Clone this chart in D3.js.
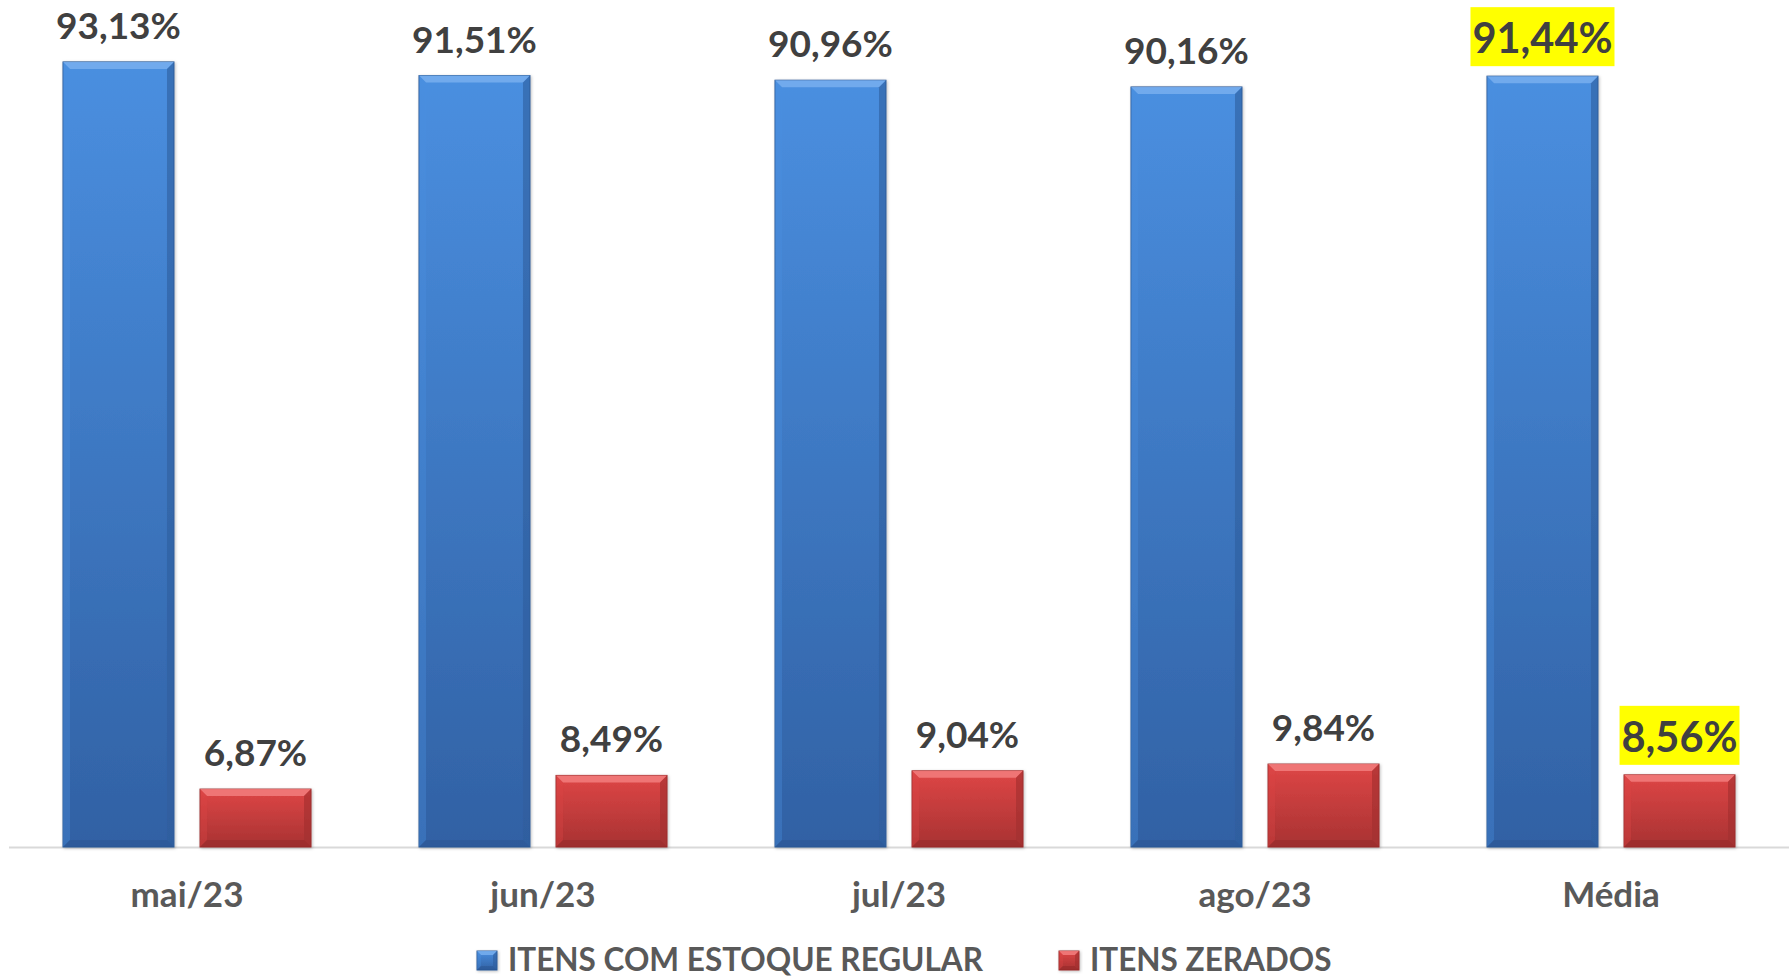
<!DOCTYPE html>
<html><head><meta charset="utf-8">
<script src="https://cdn.jsdelivr.net/npm/d3@7/dist/d3.min.js"></script>
<style>html,body{margin:0;padding:0;background:#fff;overflow:hidden}</style>
</head><body><svg id="chart" width="1789" height="980"></svg>
<script>
const categories = ["mai/23", "jun/23", "jul/23", "ago/23", "Média"];
const regularValues = [93.13, 91.51, 90.96, 90.16, 91.44];
const zeradosValues = [6.87, 8.49, 9.04, 9.84, 8.56];
const seriesNames = ["ITENS COM ESTOQUE REGULAR", "ITENS ZERADOS"];
const highlightedCategories = ["Média"];
const yDomain = [0, 100];

const W = 1789, H = 980;
const svg = d3.select("#chart");
const FONT = "Lato, 'Open Sans', sans-serif";
const locale = d3.formatLocale({decimal: ",", thousands: ".", grouping: [3], currency: ["", ""]});
const fmt = v => locale.format(".2f")(v) + "%";

const colors = [
  {top: "#4a8fe0", bottom: "#3161a4", bevelTop: "#78afee", bevelSide: "#2f5d9c", bevelBottom: "#2a5490", stroke: "#2d5a96"},
  {top: "#de4646", bottom: "#a83232", bevelTop: "#f27c7c", bevelSide: "#a02e2e", bevelBottom: "#922828", stroke: "#9a2e2e"}
];

const defs = svg.append("defs");
colors.forEach((c, i) => {
  const g = defs.append("linearGradient").attr("id", "grad" + i).attr("x1", 0).attr("y1", 0).attr("x2", 0).attr("y2", 1);
  g.append("stop").attr("offset", "0%").attr("stop-color", c.top);
  g.append("stop").attr("offset", "100%").attr("stop-color", c.bottom);
});
const f = defs.append("filter").attr("id", "shadow").attr("x", "-10%").attr("y", "-10%").attr("width", "130%").attr("height", "130%");
f.append("feDropShadow").attr("dx", 1).attr("dy", 1).attr("stdDeviation", 1.5).attr("flood-color", "#000").attr("flood-opacity", 0.25);

const baseY = 847, topY = 4;
const x0 = d3.scaleBand().domain(categories).range([9, W]).padding(0);
const x1 = d3.scaleBand().domain(seriesNames).range([0, x0.bandwidth()]).paddingInner(0.19).paddingOuter(0.394);
const y = d3.scaleLinear().domain(yDomain).range([baseY, topY]);

const data = categories.map((c, i) => ({cat: c, vals: [regularValues[i], zeradosValues[i]]}));

function bevelBar(g, x, yTop, w, h, ci, b) {
  const c = colors[ci];
  const grp = g.append("g").attr("filter", "url(#shadow)");
  grp.append("rect").attr("x", x).attr("y", yTop).attr("width", w).attr("height", h)
    .attr("fill", `url(#grad${ci})`).attr("stroke", c.stroke).attr("stroke-width", 1);
  b = Math.min(b, h / 2, w / 2);
  grp.append("path").attr("d", `M${x},${yTop} L${x + w},${yTop} L${x + w - b},${yTop + b} L${x + b},${yTop + b} Z`)
    .attr("fill", c.bevelTop).attr("opacity", 0.85);
  grp.append("path").attr("d", `M${x},${yTop} L${x + b},${yTop + b} L${x + b},${yTop + h - b} L${x},${yTop + h} Z`)
    .attr("fill", c.top).attr("opacity", 0.35);
  grp.append("path").attr("d", `M${x + w},${yTop} L${x + w - b},${yTop + b} L${x + w - b},${yTop + h - b} L${x + w},${yTop + h} Z`)
    .attr("fill", c.bevelSide).attr("opacity", 0.6);
  grp.append("path").attr("d", `M${x},${yTop + h} L${x + b},${yTop + h - b} L${x + w - b},${yTop + h - b} L${x + w},${yTop + h} Z`)
    .attr("fill", c.bevelBottom).attr("opacity", 0.5);
}

svg.append("line").attr("x1", 9).attr("x2", W).attr("y1", baseY + 0.5).attr("y2", baseY + 0.5)
  .attr("stroke", "#d9d9d9").attr("stroke-width", 2);

const barsG = svg.append("g");
const labelsG = svg.append("g");
data.forEach(d => {
  const hl = highlightedCategories.includes(d.cat);
  d.vals.forEach((v, si) => {
    const bx = x0(d.cat) + x1(seriesNames[si]);
    const bw = x1.bandwidth();
    const yt = y(v);
    bevelBar(barsG, bx, yt, bw, baseY - yt, si, 7);
    const fs = hl ? 41.5 : 37;
    const cx = bx + bw / 2;
    const by = yt - 23;
    const t = labelsG.append("text").attr("x", cx).attr("y", by).attr("text-anchor", "middle")
      .attr("font-family", FONT).attr("font-weight", 700).attr("font-size", fs).attr("fill", "#404040")
      .text(fmt(v));
    if (hl) {
      const tw = t.node().getComputedTextLength();
      labelsG.insert("rect", () => t.node()).attr("x", cx - tw / 2 - 2).attr("y", by - 46).attr("width", tw + 4).attr("height", 59)
        .attr("fill", "#ffff00");
    }
  });
});

const xAxis = d3.axisBottom(x0).tickSize(0).tickPadding(0);
const ax = svg.append("g").attr("transform", `translate(0,${baseY})`).call(xAxis);
ax.select(".domain").remove();
ax.selectAll("text").attr("y", 60).attr("dy", 0).attr("font-family", FONT).attr("font-weight", 700)
  .attr("font-size", 35).attr("fill", "#595959");

const legendX = [477, 1059];
const leg = svg.append("g");
seriesNames.forEach((s, i) => {
  const g = leg.append("g").attr("transform", `translate(${legendX[i]},0)`);
  bevelBar(g, 0, 951, 20, 19, i, 4);
  g.append("text").attr("x", 31).attr("y", 971).attr("font-family", FONT).attr("font-weight", 700)
    .attr("font-size", 31.5).attr("fill", "#595959").text(s);
});
</script></body></html>
